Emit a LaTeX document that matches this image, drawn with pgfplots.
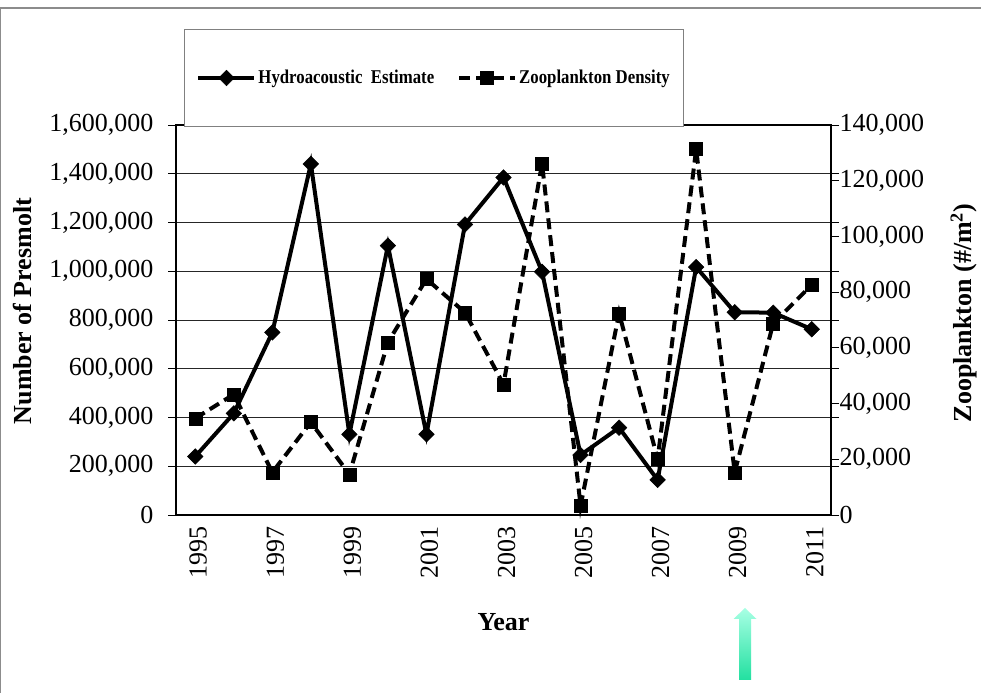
\documentclass[border=0pt]{standalone}
\usepackage{fontspec}
\setmainfont{Liberation Serif}
\usepackage{pgfplots}
\pgfplotsset{compat=1.18}
\definecolor{arrowtop}{HTML}{A8FFE4}
\definecolor{arrowbot}{HTML}{22E0A0}
\begin{document}
\begin{tikzpicture}[x=1bp,y=1bp]
\useasboundingbox (0,0) rectangle (981,693);
\fill[white] (0,0) rectangle (981,693);
\draw[gray!90,line width=1.5bp] (0.75,0) -- (0.75,685) -- (981,685);
\pgfplotsset{
  common/.style={
    at={(176bp,178bp)}, anchor=south west,
    scale only axis, width=655bp, height=390bp,
    xmin=1994.5, xmax=2011.5,
    clip=false,
    tick align=outside,
    major tick length=8bp,
    minor tick length=8bp,
    every tick/.style={black,line width=0.9bp},
    axis line style={line width=1.8bp},
    tick label style={font=\fontsize{26bp}{30bp}\selectfont},
    /pgf/number format/assume math mode=true,
    /pgf/number format/fixed,
    /pgf/number format/1000 sep={,},
    /pgf/number format/precision=0,
  },
}
\begin{axis}[common,
  axis lines=box,
  ymin=0, ymax=1600000,
  ytick={0,200000,...,1600000},
  scaled y ticks=false,
  ymajorgrids,
  major grid style={black!85,line width=0.9bp},
  xtick={1995,1997,...,2011},
  xticklabels={1995,1997,1999,2001,2003,2005,2007,2009,2011},
  minor xtick={1994.5,1995.5,...,2011.5},
  xtick style={draw=none},
  minor x tick style={black,line width=0.9bp},
  xticklabel style={rotate=90, anchor=east, yshift=-3bp},
  yticklabel style={xshift=-11bp},
  xlabel={Year},
  ylabel={Number of Presmolt},
  xlabel style={at={(axis description cs:0.5,-0.274)}, anchor=center, font=\fontsize{26bp}{30bp}\selectfont\bfseries},
  ylabel style={at={(axis description cs:-0.235,0.523)}, anchor=center, font=\fontsize{26bp}{30bp}\selectfont\bfseries},
  legend columns=2,
  legend style={at={(axis description cs:0.0122,0.9949)}, anchor=south west,
    draw=gray, line width=1bp, fill=white,
    inner xsep=12bp, inner ysep=39bp,
    font=\fontsize{19.5bp}{23bp}\selectfont\bfseries\addfontfeatures{FakeStretch=0.86},
    /tikz/every even column/.append style={column sep=21bp}},
  legend image code/.code={
    \draw[mark repeat=2,mark phase=2,#1] plot coordinates {(0bp,0bp) (28bp,0bp) (56bp,0bp)};},
]
\addplot[black, line width=4bp, mark=square*, mark size=5.5bp, mark options={rotate=45,solid,line width=0.5bp}]
  coordinates {(1995,240000) (1996,417000) (1997,749000) (1998,1440000) (1999,331000)
  (2000,1105000) (2001,331000) (2002,1192000) (2003,1385000) (2004,998000)
  (2005,246000) (2006,358000) (2007,144000) (2008,1017000) (2009,832000)
  (2010,830000) (2011,762000)};
\addlegendentry{Hydroacoustic\ \ Estimate}
\addlegendimage{black, line width=4bp, dash pattern=on 11bp off 6bp, mark=square*, mark size=6.5bp, mark options={solid,line width=0.5bp}}
\addlegendentry{Zooplankton Density}
\end{axis}
\begin{axis}[common,
  axis x line=none,
  axis y line*=right,
  ymin=0, ymax=140000,
  ytick={0,20000,...,140000},
  scaled y ticks=false,
  yticklabel style={xshift=-3bp},
  ylabel={Zooplankton (\#/m\textsuperscript{2})},
  ylabel style={at={(axis description cs:1.203,0.518)}, anchor=center, rotate=0, font=\fontsize{26bp}{30bp}\selectfont\bfseries},
]
\addplot[black, line width=4bp, dash pattern=on 11bp off 6bp, mark=square*, mark size=6.5bp, mark options={solid,line width=0.5bp}]
  coordinates {(1995,34700) (1996,43300) (1997,15300) (1998,33300) (1999,14600)
  (2000,62000) (2001,84700) (2002,72700) (2003,46900) (2004,126200)
  (2005,3300) (2006,72400) (2007,20100) (2008,131300) (2009,15300)
  (2010,68800) (2011,82600)};
\end{axis}
\shade[top color=arrowtop, bottom color=arrowbot, draw=none]
  (739,13) -- (751,13) -- (751,74) -- (756.5,74) -- (745,85) -- (733.5,74) -- (739,74) -- cycle;
\end{tikzpicture}
\end{document}
